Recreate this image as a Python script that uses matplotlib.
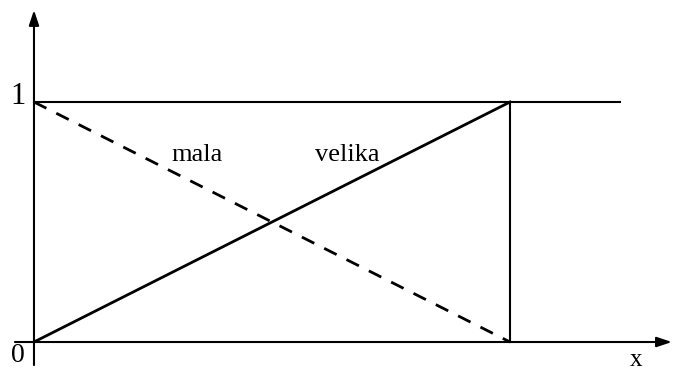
import matplotlib
matplotlib.use('Agg')
import matplotlib.pyplot as plt

# membership functions on [0, 1]
x_points = [0.0, 1.0]
mala = [1.0, 0.0]
velika = [0.0, 1.0]
labels = ["mala", "velika"]

plt.rcParams['font.family'] = ['Liberation Serif', 'DejaVu Serif']

fig = plt.figure(figsize=(6.73, 3.71), dpi=100)
ax = fig.add_axes([0, 0, 1, 1])
ax.set_xlim(-0.0714, 1.3424)
ax.set_ylim(-0.1208, 1.425)
ax.axis('off')

# axes with arrows
arrow = dict(arrowstyle='-|>,head_length=0.9,head_width=0.3', color='black', lw=1.5,
             shrinkA=0, shrinkB=0)
ax.annotate('', xy=(0, 1.383), xytext=(0, -0.096), arrowprops=arrow)
ax.annotate('', xy=(1.34, 0), xytext=(-0.04, 0), arrowprops=arrow)

# top level and right edge
ax.plot([0, 1.231], [1, 1], color='black', lw=1.5)
ax.plot([x_points[1], x_points[1]], [0, 1], color='black', lw=1.5)

ax.plot(x_points, mala, color='black', lw=2, linestyle=(0, (5, 4)))
ax.plot(x_points, velika, color='black', lw=2)

ax.text(0.342, 0.755, labels[0], fontsize=19, ha='center', va='baseline')
ax.text(0.658, 0.755, labels[1], fontsize=19, ha='center', va='baseline')

ax.text(-0.0326, 1.021, '1', fontsize=22, ha='center', va='center')
ax.text(-0.0336, -0.058, '0', fontsize=20, ha='center', va='center')
ax.text(1.265, -0.075, 'x', fontsize=18, ha='center', va='center')

fig.savefig('out.png', dpi=100)
